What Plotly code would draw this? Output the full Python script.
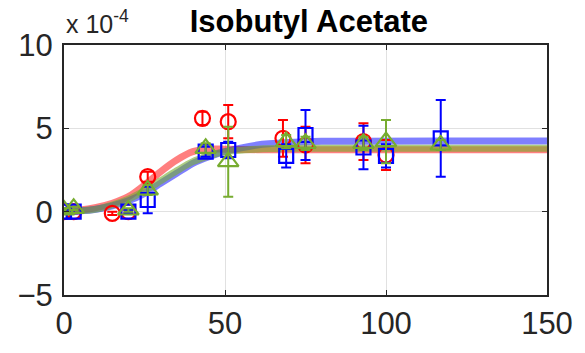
import plotly.graph_objects as go

# ---- data (values in units of 1e-4) ----
red_x = [0, 3, 15, 20, 26, 43, 51, 68, 75, 93, 100]
red_y = [0.0, 0.0, -0.1, 0.0, 2.1, 5.6, 5.4, 4.4, 4.0, 4.2, 3.4]
red_err = [0.1, 0.1, 0.1, 0.1, 0.3, 0.4, 1.0, 1.1, 1.1, 1.1, 0.9]

blue_x = [0, 3, 20, 26, 44, 51, 69, 75, 93, 100, 117]
blue_y = [0.0, 0.0, 0.0, 0.7, 3.6, 3.7, 3.35, 4.6, 3.85, 3.35, 4.4]
blue_err = [0.1, 0.1, 0.1, 0.8, 0.3, 0.5, 0.7, 1.5, 1.3, 0.7, 2.3]

green_x = [0, 3, 20, 26, 44, 51, 69, 75, 93, 100, 117]
green_y = [0.1, 0.2, 0.1, 1.3, 3.8, 3.0, 4.2, 4.1, 4.1, 4.2, 4.0]
green_err = [0.1, 0.1, 0.1, 0.3, 0.3, 2.1, 0.4, 0.4, 0.4, 1.3, 0.3]

red_fit_x = [0, 5, 10, 15, 20, 25, 30, 35, 40, 45, 50, 60, 150]
red_fit_y = [0.05, 0.1, 0.25, 0.5, 0.9, 1.6, 2.4, 3.1, 3.6, 3.75, 3.75, 3.72, 3.72]
blue_fit_x = [0, 5, 10, 15, 20, 25, 30, 35, 40, 45, 50, 60, 70, 80, 150]
blue_fit_y = [0.02, 0.05, 0.15, 0.35, 0.65, 1.1, 1.7, 2.3, 2.9, 3.3, 3.6, 4.0, 4.15, 4.22, 4.24]
green_fit_x = [0, 5, 10, 15, 20, 25, 30, 35, 40, 45, 50, 60, 70, 150]
green_fit_y = [0.02, 0.05, 0.15, 0.4, 0.75, 1.25, 1.85, 2.45, 3.0, 3.35, 3.6, 3.75, 3.8, 3.8]

x_ticks = [0, 50, 100, 150]
y_ticks = [-5, 0, 5, 10]
title_text = "Isobutyl Acetate"

RED = "rgb(255,0,0)"
BLUE = "rgb(0,0,255)"
GREEN = "rgb(119,172,48)"

fig = go.Figure()

for fx, fy, col in [(red_fit_x, red_fit_y, "rgba(255,0,0,0.5)"),
                    (blue_fit_x, blue_fit_y, "rgba(0,0,255,0.5)"),
                    (green_fit_x, green_fit_y, "rgba(119,172,48,0.6)")]:
    fig.add_trace(go.Scatter(x=fx, y=fy, mode="lines",
                             line=dict(color=col, width=7, shape="spline", smoothing=0.8),
                             hoverinfo="skip", showlegend=False))

for xs, ys, es, col, sym, sz in [
    (red_x, red_y, red_err, RED, "circle-open", 15),
    (blue_x, blue_y, blue_err, BLUE, "square-open", 14),
    (green_x, green_y, green_err, GREEN, "triangle-up-open", 18),
]:
    fig.add_trace(go.Scatter(
        x=xs, y=ys, mode="markers",
        marker=dict(symbol=sym, size=sz, color=col, line=dict(width=2.2, color=col)),
        error_y=dict(type="data", array=es, visible=True, color=col, thickness=2, width=5),
        showlegend=False))

axis_col = "rgb(38,38,38)"
fig.update_layout(
    width=585, height=353,
    margin=dict(l=64, r=30, t=45, b=53),
    paper_bgcolor="white", plot_bgcolor="white",
    font=dict(family="Liberation Sans, Arial, sans-serif", size=31, color=axis_col),
    title=dict(text="<b>" + title_text + "</b>", x=0.528, xanchor="center",
               y=0.94, yanchor="middle",
               font=dict(size=31, color="black")),
    xaxis=dict(range=[0, 150], tickvals=x_ticks, ticks="inside", ticklen=5,
               tickcolor=axis_col, showline=True, linecolor=axis_col, linewidth=2,
               mirror="allticks", showgrid=True, gridcolor="rgb(225,225,225)",
               gridwidth=1, zeroline=False, tickfont=dict(size=31)),
    yaxis=dict(range=[-5, 10], tickvals=y_ticks, ticks="inside", ticklen=5,
               tickcolor=axis_col, showline=True, linecolor=axis_col, linewidth=2,
               mirror="allticks", showgrid=True, gridcolor="rgb(225,225,225)",
               gridwidth=1, zeroline=False, tickfont=dict(size=31),
               ticklabelstandoff=3),
)

fig.add_annotation(text="x 10<sup>-4</sup>", xref="paper", yref="paper",
                   x=0.0, y=1.0, xanchor="left", yanchor="bottom", yshift=5,
                   showarrow=False, font=dict(size=25, color=axis_col))

fig.write_html("out.html", config={"displayModeBar": False})

# remove default browser body margin so the figure sits at the page origin
with open("out.html", "r", encoding="utf-8") as f:
    html = f.read()
html = html.replace("<head>", "<head><style>body{margin:0;padding:0;overflow:hidden}</style>", 1)
with open("out.html", "w", encoding="utf-8") as f:
    f.write(html)
